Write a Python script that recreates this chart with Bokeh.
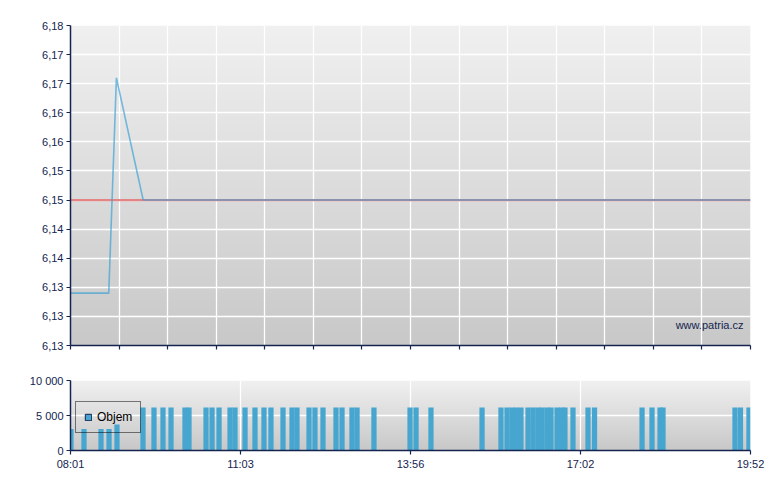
import numpy as np
from bokeh.plotting import figure
from bokeh.layouts import column
from bokeh.models import (Range1d, FixedTicker, Label, Legend, LegendItem)
from bokeh.embed import file_html
from bokeh.resources import INLINE

# ---------------- data ----------------
# time in minutes since midnight
t_start, t_end = 481, 1192          # 08:01 .. 19:52
price_times = [481, 521, 529, 557, 1192]
price_values = [6.134, 6.134, 6.171, 6.15, 6.15]
prev_close = 6.15

y_ticks = [6.125, 6.130, 6.135, 6.140, 6.145, 6.150, 6.155, 6.160, 6.165, 6.170, 6.175, 6.180]
y_labels = ["6,13", "6,13", "6,13", "6,14", "6,14", "6,15", "6,15", "6,16", "6,16", "6,17", "6,17", "6,18"]

x_labels = ["08:01", "11:03", "13:56", "17:02", "19:52"]

vol_times = [481.5, 495.1, 512.9, 521.3, 529.6, 556.8, 568.3, 577.7, 586.1, 600.7,
             604.9, 622.7, 629.0, 636.3, 647.8, 653.0, 663.5, 673.9, 683.3, 690.6,
             703.2, 712.6, 717.8, 730.4, 736.6, 745.0, 758.6, 764.9, 775.3, 780.6,
             798.3, 836.0, 842.3, 857.9, 911.3, 931.1, 937.4, 942.6, 947.3, 952.0,
             959.4, 964.6, 969.8, 974.0, 979.2, 983.4, 989.7, 994.4, 998.0, 1006.4,
             1022.1, 1028.9, 1078.6, 1089.0, 1097.4, 1100.5, 1175.8, 1181.5, 1190.4]
vol_values = [3067, 3067, 3067, 3067, 3702] + [6150] * (len(vol_times) - 5)
vol_ticks = [0, 5000, 10000]
vol_labels = ["0", "5 000", "10 000"]

# ---------------- style ----------------
NAVY = "#14244f"
FONT = "Liberation Sans"
BAR = "#47a6cf"


def gradient(n, top, bottom):
    arr = np.zeros((n, 1), dtype=np.uint32)
    view = arr.view(dtype=np.uint8).reshape((n, 1, 4))
    for i in range(n):
        f = i / (n - 1)
        c = int(round(bottom + (top - bottom) * f))
        view[i, 0, :] = [c, c, c, 255]
    return arr


def style_axes(p):
    for ax in (p.xaxis[0], p.yaxis[0]):
        ax.axis_line_color = NAVY
        ax.axis_line_width = 1.5
        ax.major_tick_line_color = NAVY
        ax.major_tick_line_width = 1.2
        ax.major_tick_out = 4
        ax.major_tick_in = 0
        ax.minor_tick_line_color = None
        ax.major_label_text_font = FONT
        ax.major_label_text_font_size = "11px"
        ax.major_label_text_color = NAVY
        ax.major_label_standoff = 3
    for g in (p.xgrid[0], p.ygrid[0]):
        g.grid_line_color = "white"
        g.grid_line_width = 1.3


# ---------------- price chart ----------------
p1 = figure(width=770, height=368, output_backend="svg", toolbar_location=None,
            x_range=Range1d(t_start, t_end), y_range=Range1d(y_ticks[0], y_ticks[-1]),
            min_border_left=70, min_border_right=20, min_border_top=25, min_border_bottom=23)
p1.outline_line_color = None
p1.background_fill_color = "white"
p1.border_fill_color = "white"

img1 = p1.image_rgba(image=[gradient(320, 0xF0, 0xC8)], x=t_start, y=y_ticks[0],
                     dw=t_end - t_start, dh=y_ticks[-1] - y_ticks[0])
img1.level = "image"

top_xticks = list(np.linspace(t_start, t_end, 15))
p1.xaxis.ticker = FixedTicker(ticks=top_xticks)
p1.xgrid.ticker = FixedTicker(ticks=top_xticks)
p1.yaxis.ticker = FixedTicker(ticks=y_ticks)
p1.ygrid.ticker = FixedTicker(ticks=y_ticks)
p1.yaxis.major_label_overrides = {v: s for v, s in zip(y_ticks, y_labels)}
style_axes(p1)
p1.xaxis.major_label_text_color = None

p1.line([price_times[0], price_times[-1]], [prev_close, prev_close],
        line_color="#e48484", line_width=2.2)
p1.line(price_times, price_values, line_color="#3aa0d4", line_alpha=0.68, line_width=1.6)

p1.add_layout(Label(x=t_end, y=y_ticks[0], x_offset=-7, y_offset=21,
                    text="www.patria.cz", text_align="right", text_baseline="alphabetic",
                    text_font=FONT, text_font_size="11px", text_color=NAVY))

# ---------------- volume chart ----------------
p2 = figure(width=770, height=112, output_backend="svg", toolbar_location=None,
            x_range=p1.x_range, y_range=Range1d(vol_ticks[0], vol_ticks[-1]),
            min_border_left=70, min_border_right=20, min_border_top=12, min_border_bottom=30)
p2.outline_line_color = None
p2.background_fill_color = "white"
p2.border_fill_color = "white"

img2 = p2.image_rgba(image=[gradient(70, 0xF0, 0xC8)], x=t_start, y=vol_ticks[0],
                     dw=t_end - t_start, dh=vol_ticks[-1] - vol_ticks[0])
img2.level = "image"

bot_xticks = list(np.linspace(t_start, t_end, len(x_labels)))
p2.xaxis.ticker = FixedTicker(ticks=bot_xticks)
p2.xgrid.ticker = FixedTicker(ticks=bot_xticks)
p2.xaxis.major_label_overrides = {v: s for v, s in zip(bot_xticks, x_labels)}
p2.yaxis.ticker = FixedTicker(ticks=vol_ticks)
p2.ygrid.ticker = FixedTicker(ticks=vol_ticks)
p2.yaxis.major_label_overrides = {v: s for v, s in zip(vol_ticks, vol_labels)}
style_axes(p2)

p2.vbar(x=vol_times, top=vol_values, width=5.5, fill_color=BAR, line_color=None)

# zero-height bar used only as the legend swatch (hidden under the x axis line)
swatch = p2.vbar(x=vol_times[:1], top=vol_ticks[:1], width=1, fill_color=BAR,
                 line_color=NAVY, line_width=1)
legend = Legend(items=[LegendItem(label="Objem", renderers=[swatch])],
                location=(5, 17), padding=8, margin=0, spacing=0,
                glyph_width=8, glyph_height=8, label_standoff=5,
                label_text_font=FONT, label_text_font_size="12px", label_text_color="black",
                label_height=12, border_line_color="black", border_line_width=1,
                background_fill_alpha=0)
p2.add_layout(legend, "center")

layout = column(p1, p2)
open("out.html", "w").write(file_html(layout, INLINE))
